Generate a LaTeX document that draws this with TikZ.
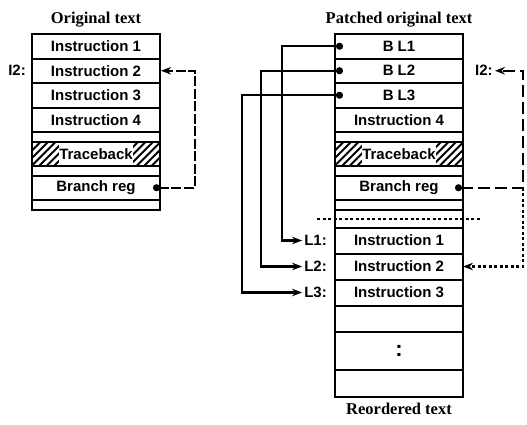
\documentclass[tikz,border=0pt]{standalone}
\usepackage{fontspec}
\setmainfont{Liberation Serif}
\setsansfont{Liberation Sans}
\usetikzlibrary{calc,positioning,arrows.meta,chains,scopes}

\tikzset{
    >={Stealth[length=10pt,width=7.5pt]},
    cell/.style={
        rectangle,
        draw=black, line width=2pt,
        minimum width=128pt,
        minimum height=24.5pt,
        inner sep=0pt, outer sep=0pt,
        font=\sffamily\bfseries\fontsize{15}{15}\selectfont,
        on chain
    },
    thin cell/.style={cell, minimum height=10pt},
    tall cell/.style={cell, minimum height=26pt},
    title/.style={font=\rmfamily\bfseries\fontsize{16.5}{16.5}\selectfont},
    lab/.style={font=\sffamily\bfseries\fontsize{15}{15}\selectfont, inner sep=1pt},
    hatched/.style={
        minimum height=23.5pt,
        path picture={
            \foreach \k in {-5,...,19}
                \draw[line width=2pt]
                    ($(path picture bounding box.south west)+(\k*7.5pt,0)$) -- ++(30pt,30pt);
            \fill[white] ($(path picture bounding box.center)+(-37pt,-20pt)$) rectangle ++(74pt,40pt);
        }
    },
    link/.style={{Circle[length=7pt]}->, line width=2.2pt, shorten >=1pt}
}

\begin{document}
\begin{tikzpicture}[
            x=1pt, y=1pt,
            node distance=0pt,
            loose dash/.style={dash pattern=on 10pt off 2.5pt},
            long dash/.style={dash pattern=on 12pt off 5pt},
            dotted line/.style={line width=2.2pt, dash pattern=on 3pt off 2.5pt}]
    \useasboundingbox (0,0) rectangle (527,-424);

    % original text
    { [start chain=orig going below]
        \node[cell] (o1) at (96,-46.25) {Instruction 1};
        \node[cell] (o2) {Instruction 2};
        \node[cell] (o3) {Instruction 3};
        \node[cell] (o4) {Instruction 4};
        \node[thin cell] (o5) {};
        \node[cell,hatched] (o6) {Traceback};
        \node[thin cell] (o7) {};
        \node[cell] (o8) {Branch reg};
        \node[thin cell] (o9) {};
    }
    \node[title, above=3pt of o1] (orig title) {Original text};
    \node[lab, left=5pt of o2] (i2a) {I2:};

    % patched text and reordered text
    { [start chain=patch going below]
        \node[cell] (p1) at (399,-46.25) {B L1};
        \node[cell] (p2) {B L2};
        \node[cell] (p3) {B L3};
        \node[cell] (p4) {Instruction 4};
        \node[thin cell] (p5) {};
        \node[cell,hatched] (p6) {Traceback};
        \node[thin cell] (p7) {};
        \node[cell] (p8) {Branch reg};
        \node[thin cell] (p9) {};
        \node[cell, minimum height=17.5pt] (p10) {};
        \node[tall cell] (r1) {Instruction 1};
        \node[tall cell] (r2) {Instruction 2};
        \node[tall cell] (r3) {Instruction 3};
        \node[tall cell] (r4) {};
        \node[cell, minimum height=38pt, font=\sffamily\bfseries\fontsize{22}{22}\selectfont] (r5) {:};
        \node[cell, minimum height=27pt] (r6) {};
    }
    \node[title, above=3pt of p1] (patch title) {Patched original text};
    \node[title, below=3pt of r6] (reorder title) {Reordered text};
    \node[lab, right=11pt of p2] (i2b) {I2:};
    \node[lab, left=7pt of r1] (l1) {L1:};
    \node[lab, left=7pt of r2] (l2) {L2:};
    \node[lab, left=7pt of r3] (l3) {L3:};

    % branches out of the patched text
    \coordinate (d1) at ([xshift=8pt]p1.west);
    \coordinate (d2) at ([xshift=8pt]p2.west);
    \coordinate (d3) at ([xshift=8pt]p3.west);
    \draw[link] (d1) -- ++(-61,0) |- (l1);
    \draw[link] (d2) -- ++(-82,0) |- (l2);
    \draw[link] (d3) -- ++(-101,0) |- (l3);

    % branch register
    \coordinate (e1) at ([xshift=-7pt]o8.east);
    \draw[link, loose dash] (e1) -- ++(42,0) |- (o2.east);

    \coordinate (e2) at ([xshift=-8pt]p8.east);
    \coordinate (bend) at ([xshift=60pt]p8.east);
    \draw[link, long dash] (e2) -- (bend) |- (i2b);
    \draw[->, dotted line] (bend) |- (r2.east);

    \draw[dotted line] ([xshift=-18pt]p10.west) -- ([xshift=17pt]p10.east);
\end{tikzpicture}
\end{document}
